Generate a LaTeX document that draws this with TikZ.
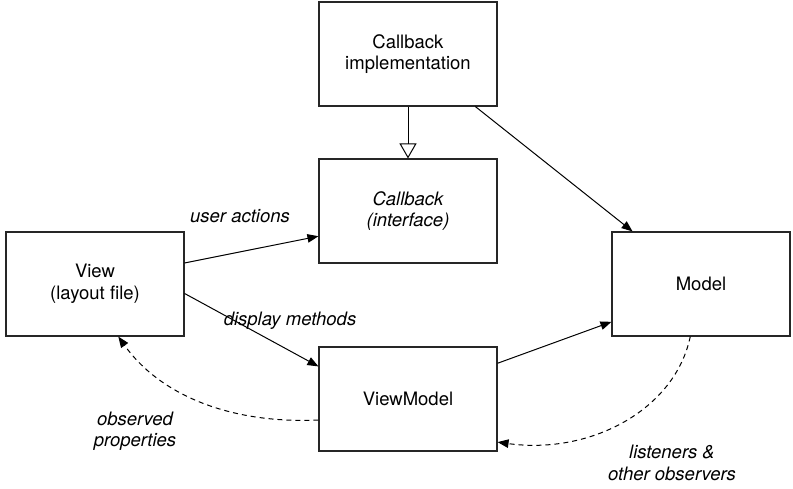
\documentclass[tikz,border=0pt]{standalone}
\usepackage{fontspec}
\setmainfont{TeX Gyre Heros}
\usetikzlibrary{arrows.meta,calc}
\begin{document}
\begin{tikzpicture}[x=1pt,y=-1pt,
  box/.style={draw=black!85,line width=1.1pt,minimum width=178pt,minimum height=104pt,align=center,inner sep=0pt,font=\fontsize{18.5}{21.5}\selectfont},
  lbl/.style={align=center,font=\fontsize{18.5}{21.5}\selectfont\itshape},
  conn/.style={line width=1pt,-{Triangle[length=11pt,width=8.5pt]}},
  dconn/.style={conn,dash pattern=on 5pt off 4pt},
  inh/.style={line width=1pt,-{Triangle[open,length=15pt,width=17pt,line width=1pt]}}]
\useasboundingbox (0,0) rectangle (793,488);
\node[box] (impl) at (408,54) {Callback\\implementation};
\node[box] (iface) at (408,211) {\itshape Callback\\\itshape (interface)};
\node[box] (view) at (95,284) {View\\(layout file)};
\node[box] (vm) at (408,399) {ViewModel};
\node[box] (model) at (701,284) {Model};
\draw[inh] (impl.south) -- (iface.north);
\draw[conn] ($(impl.south west)!0.876!(impl.south east)$) -- ($(model.north west)!0.118!(model.north east)$);
\draw[conn] ($(view.north east)!0.30!(view.south east)$) -- ($(iface.north west)!0.74!(iface.south west)$);
\draw[conn] ($(view.north east)!0.59!(view.south east)$) -- ($(vm.north west)!0.19!(vm.south west)$);
\draw[conn] ($(vm.north east)!0.16!(vm.south east)$) -- ($(model.north west)!0.86!(model.south west)$);
\draw[dconn] ($(vm.north west)!0.70!(vm.south west)$) .. controls (230,424) and (160,395) .. ($(view.south west)!0.63!(view.south east)$);
\draw[dconn] ($(model.south west)!0.44!(model.south east)$) .. controls (675,410) and (590,455) .. ($(vm.north east)!0.91!(vm.south east)$);
\node[lbl] (ua) at (240,216) {user actions};
\node[lbl] (dm) at (290,321) {display methods};
\node[lbl] (op) at (135,431) {observed\\properties};
\node[lbl] (lo) at (672,463) {listeners \&\\other observers};
\end{tikzpicture}
\end{document}
